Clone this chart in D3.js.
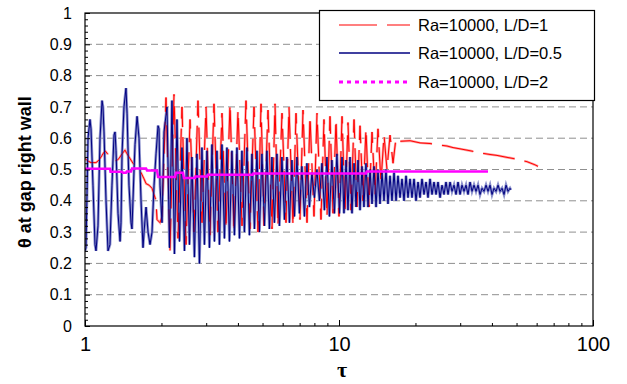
<!DOCTYPE html>
<html><head><meta charset="utf-8">
<script src="https://cdn.jsdelivr.net/npm/d3@7"></script>
<style>body{margin:0;background:#fff;} svg{display:block;font-family:"Liberation Sans",Arial,sans-serif;}</style>
</head><body><svg id="c" width="627" height="384"></svg>
<script>
// ---- data ----
const seriesNames = ["Ra=10000, L/D=1", "Ra=10000, L/D=0.5", "Ra=10000, L/D=2"];

const redTau = [1.000,1.028,1.056,1.105,1.135,1.167,1.199,1.232,1.277,1.325,1.361,1.399,1.437,1.464,1.490,1.545,1.603,1.662,1.708,1.739,1.787,1.836,1.870,1.904,1.921,1.974,2.010,
 2.084,2.161,2.241,2.324,2.409,2.498,2.591,2.686,2.785,2.888,2.995,3.106,3.220,3.339,3.462,3.590,3.723,3.860,4.003,4.151,4.304,4.463,4.628,4.799,4.931,5.067,5.254,5.448,5.598,5.752,5.965,6.185,6.356,6.590,6.772,7.022,7.216,7.482,7.688,7.972,8.192,8.494,8.728,8.969,9.217,9.471,9.732,10.00,
 10.28,10.56,10.85,11.15,11.46,11.77,12.10,12.43,12.77,13.13,13.49,13.86,14.24,14.63,15.04,15.45,15.88,16.32,16.76,
 17.38,19.04,20.84,22.82,24.98,26.62,28.11,29.95,32.80,35.90,39.31,41.89,45.03,49.31,54.97,59.10,60.74];
const redTheta = [0.535,0.527,0.522,0.522,0.530,0.545,0.560,0.548,0.535,0.527,0.535,0.550,0.562,0.550,0.540,0.520,0.505,0.490,0.470,0.455,0.450,0.440,0.420,0.400,0.340,0.330,0.350,
 0.73,0.24,0.74,0.28,0.70,0.26,0.66,0.30,0.72,0.33,0.70,0.29,0.71,0.30,0.68,0.31,0.71,0.30,0.69,0.32,0.72,0.31,0.70,0.30,0.71,0.32,0.69,0.31,0.71,0.32,0.68,0.33,0.70,0.32,0.68,0.34,0.69,0.33,0.67,0.35,0.68,0.34,0.66,0.35,0.67,0.36,0.66,0.35,
 0.67,0.36,0.65,0.37,0.66,0.38,0.64,0.40,0.63,0.38,0.62,0.42,0.63,0.46,0.61,0.50,0.61,0.52,0.60,
 0.590,0.592,0.585,0.583,0.578,0.575,0.570,0.566,0.560,0.553,0.548,0.545,0.540,0.534,0.525,0.515,0.510];

const navyTau = [1.000,1.009,1.028,1.046,1.056,1.075,1.095,1.105,1.125,1.146,1.167,1.177,1.188,1.210,1.232,1.254,1.277,1.301,1.313,1.325,1.349,1.374,1.386,1.399,1.424,1.450,1.464,1.490,1.518,1.531,1.560,1.574,1.603,1.632,1.662,1.692,1.708,1.739,1.771,1.803,1.836,1.870,1.904,1.939,1.956,1.974,2.010,2.047,
 2.103,2.151,2.200,2.250,2.302,2.355,2.409,2.464,2.520,2.578,2.637,2.697,2.759,2.822,2.887,2.953,3.021,3.090,3.161,3.233,3.307,3.383,3.461,3.540,3.621,3.704,3.789,3.876,3.965,4.056,4.148,4.243,4.341,4.440,4.542,4.646,4.752,4.861,4.973,5.087,5.203,5.322,5.444,5.569,5.697,5.827,5.961,6.098,6.237,6.380,6.526,6.676,6.829,6.985,7.145,7.309,7.477,7.648,7.823,8.002,8.186,8.374,8.566,8.762,8.963,9.168,9.378,9.593,9.813,10.04,
 10.28,10.46,10.66,10.85,11.05,11.25,11.46,11.67,11.88,12.10,12.32,12.54,12.77,13.01,13.25,13.49,13.74,13.99,14.24,14.50,14.77,15.04,15.31,15.59,15.88,16.17,16.47,16.77,17.07,17.39,17.70,18.03,18.36,18.69,19.04,19.38,19.74,20.10,20.47,20.84,21.22,21.61,22.01,22.41,22.82,23.24,23.66,24.10,24.54,24.99,25.44,25.91,26.38,26.87,27.36,27.86,28.37,28.89,29.42,29.96,30.50,31.06,31.63,32.21,32.80,33.40,34.01,34.63,35.27,35.91,36.57,37.24,37.92,38.61,39.32,40.04,40.77,41.52,42.28,43.05,43.84,44.64,45.46,46.29,47.14,47.50];
const navyTheta = [0.24,0.25,0.60,0.66,0.63,0.45,0.26,0.24,0.32,0.60,0.72,0.70,0.62,0.40,0.24,0.26,0.45,0.61,0.62,0.56,0.36,0.27,0.33,0.55,0.70,0.76,0.68,0.45,0.33,0.31,0.50,0.58,0.67,0.60,0.40,0.25,0.30,0.38,0.30,0.26,0.30,0.45,0.55,0.64,0.63,0.45,0.33,0.62,
 0.70,0.25,0.72,0.23,0.66,0.27,0.57,0.24,0.60,0.26,0.54,0.22,0.55,0.20,0.57,0.26,0.56,0.25,0.58,0.27,0.56,0.26,0.58,0.28,0.57,0.27,0.56,0.29,0.57,0.28,0.56,0.30,0.57,0.29,0.55,0.31,0.56,0.30,0.55,0.32,0.56,0.31,0.54,0.33,0.55,0.32,0.54,0.34,0.54,0.33,0.53,0.35,0.54,0.36,0.51,0.35,0.52,0.38,0.49,0.41,0.50,0.40,0.52,0.37,0.54,0.35,0.53,0.36,0.55,0.36,
 0.54,0.36,0.53,0.37,0.54,0.36,0.52,0.38,0.53,0.37,0.51,0.38,0.52,0.38,0.50,0.39,0.51,0.38,0.50,0.39,0.49,0.40,0.50,0.39,0.48,0.40,0.49,0.40,0.48,0.41,0.47,0.40,0.48,0.41,0.47,0.41,0.47,0.40,0.46,0.41,0.47,0.42,0.46,0.41,0.47,0.42,0.46,0.42,0.46,0.41,0.45,0.42,0.46,0.42,0.46,0.43,0.45,0.42,0.46,0.42,0.45,0.43,0.45,0.42,0.46,0.43,0.45,0.43,0.45,0.42,0.44,0.43,0.45,0.43,0.45,0.42,0.44,0.43,0.45,0.43,0.44,0.42,0.45,0.43,0.44,0.435];

const magTau = [1.000,1.254,1.260,1.399,1.410,1.450,1.460,1.518,1.531,1.739,1.755,1.921,1.939,2.261,2.280,2.431,2.450,2.711,2.720,3.022,3.040,4.585,4.600,12.77,12.85,38.60];
const magTheta = [0.502,0.502,0.493,0.493,0.490,0.490,0.494,0.494,0.503,0.503,0.497,0.497,0.476,0.476,0.490,0.490,0.473,0.473,0.478,0.478,0.483,0.483,0.487,0.487,0.494,0.494];

const xTickValues = [1, 10, 100];
const xTickLabels = ["1", "10", "100"];
const yTickValues = [0,0.1,0.2,0.3,0.4,0.5,0.6,0.7,0.8,0.9,1];
const yTickLabels = ["0","0.1","0.2","0.3","0.4","0.5","0.6","0.7","0.8","0.9","1"];
const xTitle = "τ";
const yTitle = "θ  at gap right wall";

// ---- drawing ----
const svg = d3.select("#c");
const L = 85, R = 593, T = 13, B = 326;
const x = d3.scaleLog().domain([1, 100]).range([L, R]);
const y = d3.scaleLinear().domain([0, 1]).range([B, T]);

svg.append("defs").append("clipPath").attr("id","clip")
  .append("rect").attr("x",L).attr("y",T).attr("width",R-L).attr("height",B-T);

// gridlines
svg.append("g").selectAll("line").data(yTickValues.filter(v => v > 0 && v < 1)).join("line")
  .attr("x1", L).attr("x2", R).attr("y1", d => y(d)).attr("y2", d => y(d))
  .attr("stroke", "#8f8f8f").attr("stroke-width", 1).attr("stroke-dasharray", "7,4");

const line = d3.line().x(d => x(d[0])).y(d => y(d[1]));
const zip = (a, b) => a.map((t, i) => [t, b[i]]);

const plot = svg.append("g").attr("clip-path","url(#clip)");
const redData = zip(redTau, redTheta), navyData = zip(navyTau, navyTheta), magData = zip(magTau, magTheta);

plot.append("path").attr("d", line(redData)).attr("fill","none").attr("stroke","#ffa0a0")
  .attr("stroke-width",2.4).attr("stroke-dasharray","32,10");
plot.append("path").attr("d", line(navyData)).attr("fill","none").attr("stroke","#8a90cc")
  .attr("stroke-width",2.8);
plot.append("path").attr("d", line(redData)).attr("fill","none").attr("stroke","#ff0000")
  .attr("stroke-width",1).attr("stroke-dasharray","32,10");
plot.append("path").attr("d", line(navyData)).attr("fill","none").attr("stroke","#000080")
  .attr("stroke-width",1);
plot.append("path").attr("d", line(magData)).attr("fill","none").attr("stroke","#ff00ff")
  .attr("stroke-width",2.5);

// axes
const fmtY = d => yTickLabels[yTickValues.indexOf(d)];
const minorY = d3.range(0, 51).map(i => i / 50).filter(v => Math.round(v * 50) % 5 !== 0);
svg.append("g").attr("transform", `translate(${L},0)`)
  .call(d3.axisLeft(y).tickValues(minorY).tickSizeInner(-3).tickSizeOuter(0).tickFormat(""))
  .call(g => g.select(".domain").remove());
svg.append("g").attr("transform", `translate(${L},0)`)
  .call(d3.axisLeft(y).tickValues(yTickValues).tickSizeInner(-5).tickSizeOuter(0).tickPadding(13).tickFormat(fmtY))
  .call(g => g.select(".domain").remove())
  .call(g => g.selectAll("text").attr("font-size", 16).attr("fill","#000").attr("font-family","Liberation Sans, Arial, sans-serif"));

const minorX = [2,3,4,5,6,7,8,9,20,30,40,50,60,70,80,90];
svg.append("g").attr("transform", `translate(0,${B})`)
  .call(d3.axisBottom(x).tickValues(minorX).tickSizeInner(-3).tickSizeOuter(0).tickFormat(""))
  .call(g => g.select(".domain").remove());
svg.append("g").attr("transform", `translate(0,${B})`)
  .call(d3.axisBottom(x).tickValues(xTickValues).tickSizeInner(-6).tickSizeOuter(0).tickPadding(11)
    .tickFormat(d => xTickLabels[xTickValues.indexOf(d)]))
  .call(g => g.select(".domain").remove())
  .call(g => g.selectAll("text").attr("font-size", 20).attr("fill","#000").attr("font-family","Liberation Sans, Arial, sans-serif"));

// frame
svg.append("rect").attr("x", L).attr("y", T).attr("width", R - L).attr("height", B - T)
  .attr("fill","none").attr("stroke","#000").attr("stroke-width",1.2);

// titles
svg.append("text").attr("x", 342).attr("y", 377).attr("text-anchor","middle")
  .attr("font-family","Liberation Serif, serif").attr("font-weight","bold").attr("font-size",22).text(xTitle);
svg.append("text").attr("transform","translate(31,172) rotate(-90)").attr("text-anchor","middle")
  .attr("font-weight","bold").attr("font-size",18).text(yTitle);

// legend
const lg = svg.append("g");
lg.append("rect").attr("x",319.5).attr("y",10.5).attr("width",275).attr("height",90)
  .attr("fill","#fff").attr("stroke","#000").attr("stroke-width",1.2);
const legStyles = [
  {color:"#ff0000", w:1.2, dash:"38,10"},
  {color:"#000080", w:1.3, dash:null},
  {color:"#ff00ff", w:3, dash:"4,4"}
];
const legY = [25, 53, 82];
seriesNames.forEach((name, i) => {
  lg.append("line").attr("x1",339).attr("x2",410).attr("y1",legY[i]).attr("y2",legY[i])
    .attr("stroke",legStyles[i].color).attr("stroke-width",legStyles[i].w)
    .attr("stroke-dasharray",legStyles[i].dash);
  lg.append("text").attr("x",418).attr("y",legY[i]).attr("dy","0.36em")
    .attr("font-size",16.5).text(name);
});
</script>
</body></html>
